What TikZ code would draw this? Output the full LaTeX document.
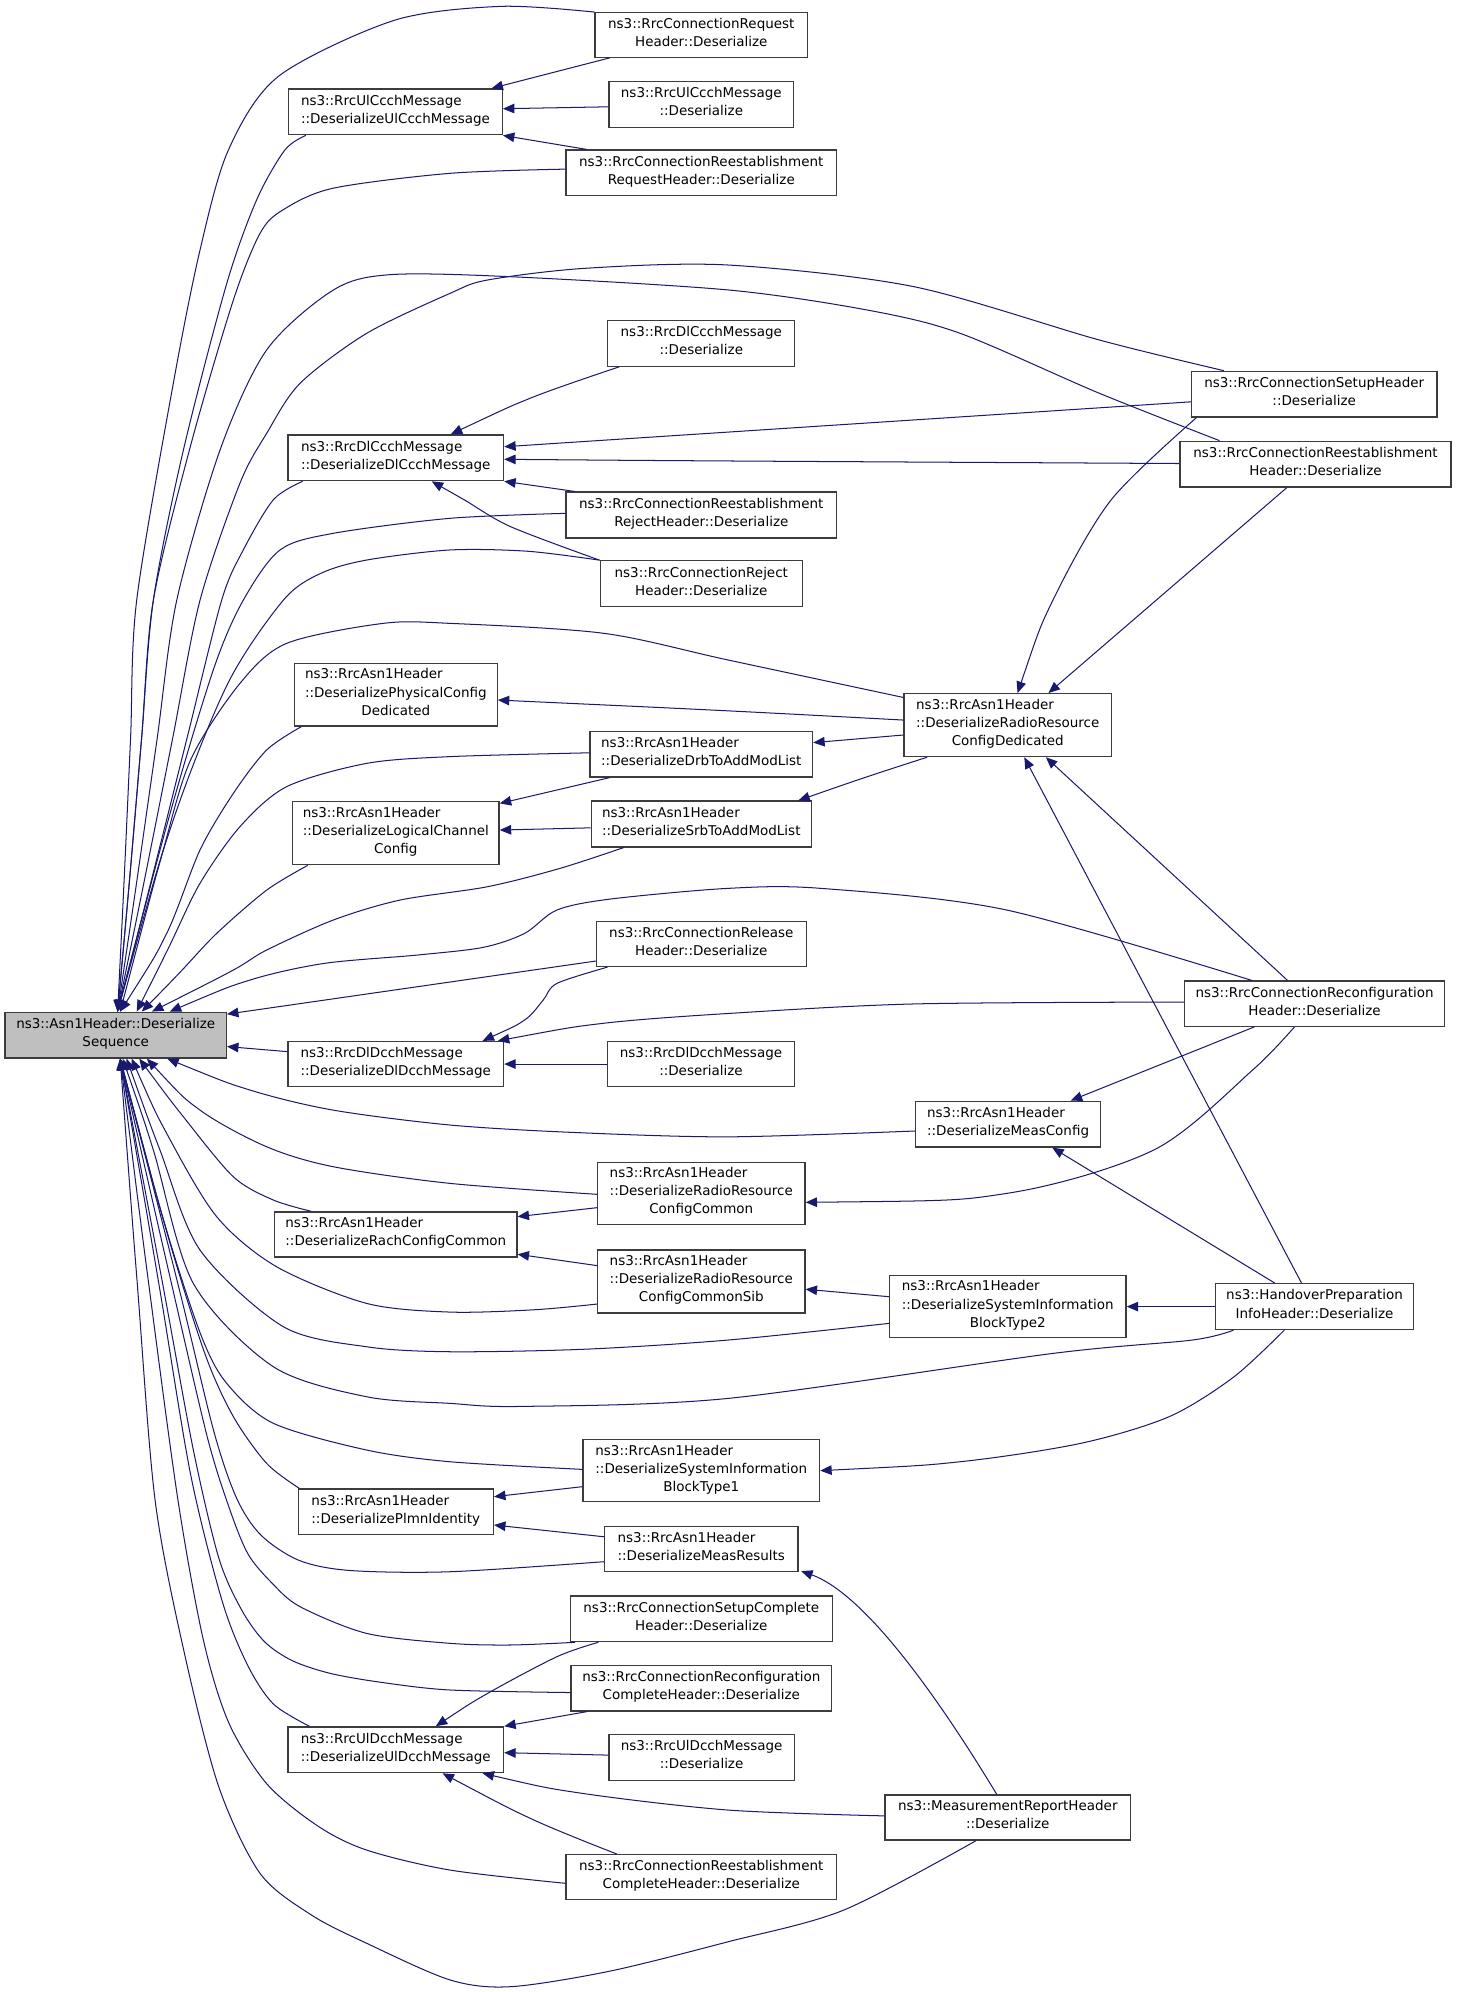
\documentclass[tikz,border=0pt]{standalone}
\usepackage{fontspec}
\setmainfont{DejaVu Sans}
\usetikzlibrary{arrows.meta,calc}
\definecolor{edgec}{HTML}{191970}
\definecolor{boxc}{HTML}{3C3C3C}
\definecolor{hlfill}{HTML}{BFBFBF}
\newcommand\leftln[2]{\rlap{#1}\phantom{#2}}
\begin{document}
\begin{tikzpicture}[x=1pt,y=-1pt,
  box/.style={draw=boxc, line width=1pt, fill=white, inner sep=0pt, align=center,
    font=\fontsize{10.6}{14.2}\selectfont,
    execute at begin node=\strut, execute at end node=\strut},
  edge/.style={draw=edgec, line width=0.8pt, {Triangle[length=9pt,width=7.5pt]}-},
  sm/.style={smooth, tension=0.5}]
\useasboundingbox (0,0) rectangle (1145,1566.5);

% ---------------- nodes ----------------
\node[box, fill=hlfill, minimum width=174pt, minimum height=36pt] (A) at (91,814) {ns3::Asn1Header::Deserialize\\Sequence};
\node[box, minimum width=168pt, minimum height=36pt] (UlCcch) at (311,88) {\leftln{ns3::RrcUlCcchMessage}{::DeserializeUlCcchMessage}\\::DeserializeUlCcchMessage};
\node[box, minimum width=167pt, minimum height=35pt] (ConnReq) at (551.5,27.5) {ns3::RrcConnectionRequest\\Header::Deserialize};
\node[box, minimum width=145pt, minimum height=36pt] (UlCcchDes) at (551.5,82) {ns3::RrcUlCcchMessage\\::Deserialize};
\node[box, minimum width=213pt, minimum height=36pt] (ReestReq) at (551.5,136) {ns3::RrcConnectionReestablishment\\RequestHeader::Deserialize};
\node[box, minimum width=147pt, minimum height=36pt] (DlCcchDes) at (551.5,270) {ns3::RrcDlCcchMessage\\::Deserialize};
\node[box, minimum width=193pt, minimum height=36pt] (SetupH) at (1033.5,310) {ns3::RrcConnectionSetupHeader\\::Deserialize};
\node[box, minimum width=169.5pt, minimum height=36pt] (DlCcch) at (311.25,360) {\leftln{ns3::RrcDlCcchMessage}{::DeserializeDlCcchMessage}\\::DeserializeDlCcchMessage};
\node[box, minimum width=213pt, minimum height=36pt] (ReestH) at (1034.5,365) {ns3::RrcConnectionReestablishment\\Header::Deserialize};
\node[box, minimum width=213pt, minimum height=36pt] (ReestRej) at (551.5,405) {ns3::RrcConnectionReestablishment\\RejectHeader::Deserialize};
\node[box, minimum width=159pt, minimum height=36pt] (Reject) at (551.5,459) {ns3::RrcConnectionReject\\Header::Deserialize};
\node[box, minimum width=159.5pt, minimum height=49.5pt] (PhysCfg) at (311.25,546.25) {\leftln{ns3::RrcAsn1Header}{::DeserializePhysicalConfig}\\::DeserializePhysicalConfig\\Dedicated};
\node[box, minimum width=163pt, minimum height=49.5pt] (RRCD) at (792.5,570.25) {\leftln{ns3::RrcAsn1Header}{::DeserializeRadioResource}\\::DeserializeRadioResource\\ConfigDedicated};
\node[box, minimum width=175pt, minimum height=35.5pt] (DrbAdd) at (551.5,593.25) {\leftln{ns3::RrcAsn1Header}{::DeserializeDrbToAddModList}\\::DeserializeDrbToAddModList};
\node[box, minimum width=162.5pt, minimum height=49.5pt] (LogCh) at (311.25,655.25) {\leftln{ns3::RrcAsn1Header}{::DeserializeLogicalChannel}\\::DeserializeLogicalChannel\\Config};
\node[box, minimum width=173pt, minimum height=36pt] (SrbAdd) at (551.5,648) {\leftln{ns3::RrcAsn1Header}{::DeserializeSrbToAddModList}\\::DeserializeSrbToAddModList};
\node[box, minimum width=165pt, minimum height=35.5pt] (Release) at (551.5,742.25) {ns3::RrcConnectionRelease\\Header::Deserialize};
\node[box, minimum width=204.5pt, minimum height=35.5pt] (Reconf) at (1033.75,789.25) {ns3::RrcConnectionReconfiguration\\Header::Deserialize};
\node[box, minimum width=169.5pt, minimum height=35.5pt] (DlDcch) at (311.25,836.75) {\leftln{ns3::RrcDlDcchMessage}{::DeserializeDlDcchMessage}\\::DeserializeDlDcchMessage};
\node[box, minimum width=147.5pt, minimum height=35.5pt] (DlDcchDes) at (551.25,836.75) {ns3::RrcDlDcchMessage\\::Deserialize};
\node[box, minimum width=145.5pt, minimum height=36pt] (MeasCfg) at (792.75,884) {\leftln{ns3::RrcAsn1Header}{::DeserializeMeasConfig}\\::DeserializeMeasConfig};
\node[box, minimum width=163pt, minimum height=49pt] (RRCC) at (551.5,938.5) {\leftln{ns3::RrcAsn1Header}{::DeserializeRadioResource}\\::DeserializeRadioResource\\ConfigCommon};
\node[box, minimum width=190.5pt, minimum height=35.5pt] (Rach) at (311.25,970.75) {\leftln{ns3::RrcAsn1Header}{::DeserializeRachConfigCommon}\\::DeserializeRachConfigCommon};
\node[box, minimum width=163pt, minimum height=49.5pt] (RRCCSib) at (551.5,1007.75) {\leftln{ns3::RrcAsn1Header}{::DeserializeRadioResource}\\::DeserializeRadioResource\\ConfigCommonSib};
\node[box, minimum width=186pt, minimum height=49pt] (SIB2) at (792.5,1027.5) {\leftln{ns3::RrcAsn1Header}{::DeserializeSystemInformation}\\::DeserializeSystemInformation\\BlockType2};
\node[box, minimum width=155.5pt, minimum height=36pt] (HO) at (1033.75,1027.5) {ns3::HandoverPreparation\\InfoHeader::Deserialize};
\node[box, minimum width=186pt, minimum height=49pt] (SIB1) at (551.5,1156.5) {\leftln{ns3::RrcAsn1Header}{::DeserializeSystemInformation}\\::DeserializeSystemInformation\\BlockType1};
\node[box, minimum width=153.5pt, minimum height=35.5pt] (Plmn) at (311.25,1188.75) {\leftln{ns3::RrcAsn1Header}{::DeserializePlmnIdentity}\\::DeserializePlmnIdentity};
\node[box, minimum width=152pt, minimum height=35.5pt] (MeasRes) at (551.5,1218.25) {\leftln{ns3::RrcAsn1Header}{::DeserializeMeasResults}\\::DeserializeMeasResults};
\node[box, minimum width=206pt, minimum height=36pt] (SetupCompl) at (551.5,1273) {ns3::RrcConnectionSetupComplete\\Header::Deserialize};
\node[box, minimum width=205pt, minimum height=36pt] (ReconfCompl) at (551.5,1327.5) {ns3::RrcConnectionReconfiguration\\CompleteHeader::Deserialize};
\node[box, minimum width=169.5pt, minimum height=36pt] (UlDcch) at (311.25,1376) {\leftln{ns3::RrcUlDcchMessage}{::DeserializeUlDcchMessage}\\::DeserializeUlDcchMessage};
\node[box, minimum width=145.5pt, minimum height=36pt] (UlDcchDes) at (551.75,1382) {ns3::RrcUlDcchMessage\\::Deserialize};
\node[box, minimum width=193pt, minimum height=35.5pt] (MeasRep) at (792.5,1429.25) {ns3::MeasurementReportHeader\\::Deserialize};
\node[box, minimum width=213pt, minimum height=35.5pt] (ReestCompl) at (551.5,1476.25) {ns3::RrcConnectionReestablishment\\CompleteHeader::Deserialize};

% ---------------- edges into A (from above) ----------------
\draw[edge] plot[sm] coordinates {($(A.north west)+(89,0)$) (97.8,688) (102.7,580) (107.5,472) (136.3,301.4) (157.3,196.6) (179.6,118) (219,60) (310,16) (394,5) (ConnReq.north west)};
\draw[edge] plot[sm] coordinates {($(A.north west)+(89,0)$) (102.2,688) (111.4,580) (120.6,472) (144.2,354) (178.3,223) (201.9,157) (224,118) ($(UlCcch.south west)+(14,0)$)};
\draw[edge] plot[sm] coordinates {($(A.north west)+(89,0)$) (102.2,688) (111.4,580) (120.6,472) (150,350) (183.5,236) (204.5,183.5) (222.6,165) (262,148) (353.9,136.3) ($(ReestReq.west)+(0,-3)$)};
\draw[edge] plot[sm] coordinates {($(A.north west)+(89,0)$) (114.4,688) (135.9,580) (157.3,472) (188.7,380) (209.7,340.8) (236,301.4) (288.4,262.1) (353.9,230.7) (383.4,220.2) (460,211) (572.5,208.4) (718.5,225.4) (864.6,267.4) ($(SetupH.north west)+(26,0)$)};
\draw[edge] plot[sm] coordinates {($(A.north west)+(89,0)$) (108.3,688) (123.7,580) (139,472) (173,354) (209.7,275.2) (262.1,228.1) (306.7,216) (401.6,217.6) (572.5,228) (682,243.8) (755,262.1) (864.6,309.3) ($(ReestH.north west)+(31.5,0)$)};
\draw[edge] plot[sm] coordinates {($(A.north west)+(89,0)$) (120.1,688) (147.2,580) (174.3,472) (191.3,432.5) (215,393) ($(DlCcch.south west)+(12,0)$)};
\draw[edge] plot[sm] coordinates {($(A.north west)+(89,0)$) (135.9,632) (168.7,524) (191.3,472) (220.2,432.5) (262.1,419.4) (353.9,407.6) ($(ReestRej.west)+(0,-1.3)$)};
\draw[edge] plot[sm] coordinates {($(A.north west)+(89,0)$) (136.2,645) (179.4,537) (222.8,472) (252,451) (288.4,440.4) (353.9,432.5) (415,433.5) (Reject.north west)};
\draw[edge] plot[sm] coordinates {($(A.north west)+(91,0)$) (126.6,675) (149.9,597.6) (188.7,537.4) (225.5,505.9) (301.4,490.2) (353.9,490.2) (474.6,498) (572.5,519) ($(RRCD.north west)+(0,3.5)$)};
\draw[edge] plot[sm] coordinates {($(A.north west)+(91,0)$) (131.1,734) (157.3,668.4) (183.5,623.9) (209.7,589.8) ($(PhysCfg.south west)+(5.8,0)$)};
\draw[edge] plot[sm] coordinates {($(A.north west)+(104,0)$) (132.6,745.3) (157.3,694.6) (188.7,650.1) (225.5,618.6) (288.4,600.3) (353.9,595) ($(DrbAdd.west)+(0,-1.25)$)};
\draw[edge] plot[sm] coordinates {($(A.north west)+(108,0)$) (141.2,765) (170.4,734) (209.7,700) ($(LogCh.south west)+(12.5,0)$)};
\draw[edge] plot[sm] coordinates {($(A.north west)+(116,0)$) (183.5,762.8) (209.7,747.1) (262.1,723.5) (314.6,707.8) (383.4,697.3) (440,683) ($(SrbAdd.south west)+(26,0)$)};
\draw[edge] plot[sm] coordinates {($(A.north west)+(130,0)$) (196.6,770.7) (255,757.6) (328.6,751) (380,745) (412.6,734) (438,715.6) (480,707) (572.5,698.6) (645.6,698.6) (791.5,715.6) ($(Reconf.north west)+(53.5,0)$)};
\draw[edge] ($(A.north east)+(0,2)$) -- ($(Release.west)+(0,13.5)$);
\draw[edge] ($(A.east)+(0,9)$) -- ($(DlDcch.west)+(0,-9.75)$);

% ---------------- edges into A (from below) ----------------
\draw[edge] plot[sm] coordinates {($(A.south west)+(128,0)$) (196.6,857.2) (262.1,873) (353.9,884.7) (450,890.5) (572.5,894) ($(MeasCfg.west)+(0,5.4)$)};
\draw[edge] plot[sm] coordinates {($(A.south west)+(112,0)$) (157.3,873) (209.7,901.8) (262.1,917.5) (353.9,930.6) ($(RRCC.west)+(0,0.7)$)};
\draw[edge] plot[sm] coordinates {($(A.south west)+(106,0)$) (144.2,878.2) (183.5,925.4) (215,943.7) ($(Rach.north west)+(29,0)$)};
\draw[edge] plot[sm] coordinates {($(A.south west)+(100,0)$) (131.1,891.3) (170.4,956.8) (217.6,996.2) (288.4,1025) (353.9,1031.8) (420,1030) ($(RRCCSib.west)+(0,17.75)$)};
\draw[edge] plot[sm] coordinates {($(A.south west)+(96,0)$) (125.8,904.4) (157.3,983) (222.8,1043.3) (288.4,1059.1) (353.9,1063) (460,1061) (572.5,1053.8) ($(SIB2.west)+(0,13.2)$)};
\draw[edge] plot[sm] coordinates {($(A.south west)+(93,0)$) (120.6,904.4) (152,1009.2) (215,1074.8) (288.4,1098.4) (353.9,1103.6) (409.5,1106) (572.5,1099.7) (828.1,1064.3) (937.6,1053.8) ($(HO.south west)+(14.5,0)$)};
\draw[edge] plot[sm] coordinates {($(A.south west)+(91,0)$) (130.3,965) (158.1,1050) (178.3,1087.9) (215,1119.3) (288.4,1140.3) (353.9,1149.5) ($(SIB1.west)+(0,-1)$)};
\draw[edge] plot[sm] coordinates {($(A.south west)+(91,0)$) (131.8,971) (161.3,1065) (183.5,1114) (209.7,1150.8) ($(Plmn.north west)+(1.5,0)$)};
\draw[edge] plot[sm] coordinates {($(A.south west)+(91,0)$) (140,1010) (168,1125) (186,1178) (205,1207) (235,1227) (275,1235) (354,1236) ($(MeasRes.west)+(0,9.85)$)};
\draw[edge] plot[sm] coordinates {($(A.south west)+(91,0)$) (135,1010) (163,1130) (180,1185) (195,1222) (214,1245) (236,1263.5) (288.4,1284.5) (353.9,1292.3) (401.6,1293.6) ($(SetupCompl.south west)+(4.2,0)$)};
\draw[edge] plot[sm] coordinates {($(A.south west)+(91,0)$) (128,1010) (152,1140) (172,1225) (190,1266) (208,1291) (230,1306) (260,1316) (300,1323) (354,1329) ($(ReconfCompl.west)+(0,3.5)$)};
\draw[edge] plot[sm] coordinates {($(A.south west)+(91,0)$) (125,1010) (150,1160) (175,1260) (195,1310) (215,1340) ($(UlDcch.north west)+(17.3,0)$)};
\draw[edge] plot[sm] coordinates {($(A.south west)+(91,0)$) (117,1010) (140,1180) (160,1290) (180,1355) (210,1403) (250,1436) (288.4,1454.9) (353.9,1470.6) ($(ReestCompl.west)+(0,4.75)$)};
\draw[edge] plot[sm] coordinates {($(A.south west)+(91,0)$) (108,1010) (122,1180) (145,1300) (172,1405) (204.5,1473.2) (245,1506) (288.4,1528.2) (353.9,1557) (401.6,1562.3) (480,1550) (572.5,1527) (663.7,1502) ($(MeasRep.south west)+(72,0)$)};

% ---------------- other edges ----------------
\draw[edge] ($(UlCcch.north west)+(160,0)$) -- ($(ConnReq.south west)+(12,0)$);
\draw[edge] ($(UlCcch.east)+(0,-2.5)$) -- ($(UlCcchDes.west)+(0,2)$);
\draw[edge] (UlCcch.south east) -- ($(ReestReq.north west)+(17,0)$);
\draw[edge] plot[sm] coordinates {($(DlCcch.north west)+(128.5,0)$) (419.9,312) ($(DlCcchDes.south west)+(9.4,0)$)};
\draw[edge] ($(DlCcch.east)+(0,-8.7)$) -- ($(SetupH.west)+(0,6)$);
\draw[edge] plot[sm] coordinates {($(DlCcch.east)+(0,1.2)$) (572.5,362.5) ($(ReestH.west)+(0,-0.5)$)};
\draw[edge] (DlCcch.south east) -- ($(ReestRej.north west)+(7.7,0)$);
\draw[edge] plot[sm] coordinates {($(DlCcch.south west)+(113.5,0)$) (365,393) (401.6,414.2) (Reject.north west)};
\draw[edge] plot[sm] coordinates {($(RRCD.north west)+(89.7,0)$) (828,472) (873.7,393.2) ($(SetupH.south west)+(4.3,0)$)};
\draw[edge] ($(RRCD.north east)+(-50,0)$) -- ($(ReestH.south west)+(84.4,0)$);
\draw[edge] plot[sm] coordinates {($(PhysCfg.east)+(0,4.25)$) (572.5,559) ($(RRCD.west)+(0,-4)$)};
\draw[edge] ($(DrbAdd.east)+(0,-9.25)$) -- ($(RRCD.west)+(0,7.75)$);
\draw[edge] plot[sm] coordinates {($(SrbAdd.north east)+(-10.7,0)$) (682,610.8) ($(RRCD.south west)+(18.5,0)$)};
\draw[edge] ($(LogCh.north east)+(0,1.8)$) -- ($(DrbAdd.south west)+(16,0)$);
\draw[edge] ($(LogCh.east)+(0,-2.5)$) -- ($(SrbAdd.west)+(0,3)$);
\draw[edge] plot[sm] coordinates {($(DlDcch.north west)+(153.5,0)$) (412.6,802.1) (427.2,786.4) (438,773.3) ($(Release.south west)+(9.3,0)$)};
\draw[edge] plot[sm] coordinates {($(DlDcch.north west)+(165.5,0)$) (474.6,804.7) (572.5,797) (718.5,789.5) ($(Reconf.west)+(0,-1.25)$)};
\draw[edge] (DlDcch.east) -- (DlDcchDes.west);
\draw[edge] ($(RRCD.south west)+(95,0)$) -- ($(HO.north west)+(68,0)$);
\draw[edge] ($(RRCD.south west)+(112,0)$) -- ($(Reconf.north west)+(81.5,0)$);
\draw[edge] ($(MeasCfg.north west)+(122.5,0)$) -- ($(Reconf.south west)+(55.5,0)$);
\draw[edge] ($(MeasCfg.south west)+(108,0)$) -- ($(HO.north west)+(47,0)$);
\draw[edge] plot[sm] coordinates {($(RRCC.east)+(0,7)$) (791.5,938.5) (908,904) (985,841.5) ($(Reconf.south west)+(87,0)$)};
\draw[edge] ($(Rach.east)+(0,-14)$) -- ($(RRCC.west)+(0,11.2)$);
\draw[edge] ($(Rach.east)+(0,15.6)$) -- ($(RRCCSib.west)+(0,-12.5)$);
\draw[edge] ($(RRCCSib.east)+(0,6.1)$) -- ($(SIB2.west)+(0,-7.8)$);
\draw[edge] (SIB2.east) -- (HO.west);
\draw[edge] plot[sm] coordinates {(SIB1.east) (755,1149.5) (850,1135) (919.3,1114.1) (970,1083) ($(HO.south west)+(54.5,0)$)};
\draw[edge] ($(Plmn.east)+(0,-11.75)$) -- ($(SIB1.west)+(0,12.6)$);
\draw[edge] ($(Plmn.east)+(0,10.5)$) -- ($(MeasRes.west)+(0,-9.75)$);
\draw[edge] ($(MeasRes.south east)+(2,-1)$) .. controls (685,1255) and (750,1355) .. ($(MeasRep.north west)+(88.3,0)$);
\draw[edge] plot[sm] coordinates {($(UlDcch.north west)+(116.7,0)$) (383.4,1331.7) (438,1302.8) ($(SetupCompl.south west)+(22.5,0)$)};
\draw[edge] (UlDcch.north east) -- ($(ReconfCompl.south west)+(13,0)$);
\draw[edge] ($(UlDcch.east)+(0,2.3)$) -- ($(UlDcchDes.west)+(0,-1.8)$);
\draw[edge] plot[sm] coordinates {($(UlDcch.south west)+(153.5,0)$) (456,1410) (572.5,1423.4) ($(MeasRep.west)+(0,-1.25)$)};
\draw[edge] plot[sm] coordinates {($(UlDcch.south west)+(122,0)$) (420,1431.3) ($(ReestCompl.north west)+(40.6,0)$)};
\end{tikzpicture}
\end{document}
